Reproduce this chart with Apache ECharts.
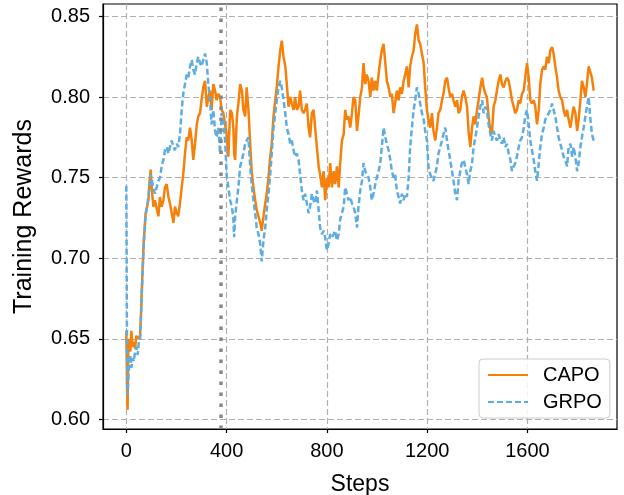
<!DOCTYPE html>
<html>
<head>
<meta charset="utf-8">
<script src="https://cdn.jsdelivr.net/npm/echarts@6/dist/echarts.min.js"></script>
<style>
  html, body { margin: 0; padding: 0; background: #fff; }
  #chart { width: 624px; height: 495px; }
</style>
</head>
<body>
<div id="chart"></div>
<script>
// training steps (shared by both curves)
var steps = [
    0, 3, 5, 8, 12, 16, 20, 25, 30, 35, 40, 45, 50, 55, 60, 64, 70, 77, 83, 88, 93, 97,
    101, 108, 114, 121, 128, 134, 141, 148, 154, 161, 168, 174, 181, 188, 194, 201, 207, 214, 221, 227,
    234, 241, 247, 254, 261, 267, 274, 281, 287, 294, 300, 307, 314, 321, 327, 334, 340, 347, 354, 360,
    367, 374, 380, 387, 394, 400, 407,
    414, 421, 427, 430, 434, 441, 447, 454, 461, 467, 474, 480, 487, 494, 500, 507, 514, 520, 527, 534,
    540, 547, 554, 560, 567, 574, 580, 587, 594, 600, 607, 614, 620, 627, 634, 640, 647, 654, 660, 667,
    673, 680, 687, 693, 700, 707, 713, 720, 727, 733, 740, 747, 753, 760, 767, 773, 780, 787, 793, 800,
    807, 813, 820, 827, 833, 840, 847, 853, 860, 867,
    873, 880, 886, 893, 900, 906, 913, 920, 926, 933, 940, 946, 953, 959, 966, 973, 979, 986, 993, 999,
    1006, 1013, 1019, 1026, 1033, 1039, 1046, 1053, 1059, 1066, 1072, 1079, 1086, 1092, 1099, 1106, 1112, 1119, 1126, 1132,
    1139, 1146, 1152, 1159, 1166, 1172, 1179, 1186, 1192, 1199, 1205, 1212, 1219, 1225, 1232, 1239, 1245, 1252, 1259, 1265,
    1272, 1279, 1285, 1292, 1299, 1305, 1312, 1319, 1325, 1332, 1338, 1345,
    1352, 1359, 1365, 1372, 1379, 1385, 1392, 1399, 1405, 1412, 1419, 1425, 1432, 1438, 1445, 1452, 1458, 1465, 1472, 1478,
    1485, 1492, 1498, 1505, 1512, 1518, 1525, 1532, 1538, 1545, 1551, 1558, 1565, 1571, 1578, 1585, 1591, 1598, 1605, 1611,
    1618, 1625, 1631, 1638, 1645, 1651, 1658, 1665, 1671, 1678, 1685, 1691, 1698, 1704, 1711, 1718, 1724, 1731, 1738, 1744,
    1751, 1758, 1764, 1771, 1778, 1784, 1791, 1798, 1804, 1811, 1817, 1824, 1831, 1837, 1844, 1851, 1857, 1864
];

var capoRewards = [
    0.655, 0.620, 0.606, 0.645, 0.650, 0.642, 0.655, 0.645, 0.648, 0.644, 0.652, 0.650, 0.651, 0.652, 0.672, 0.690, 0.712, 0.728, 0.732, 0.736, 0.748, 0.755,
    0.744, 0.732, 0.736, 0.736, 0.726, 0.738, 0.732, 0.736, 0.744, 0.746, 0.738, 0.734, 0.728, 0.722, 0.732, 0.728, 0.726, 0.734, 0.744, 0.752,
    0.765, 0.775, 0.773, 0.781, 0.773, 0.761, 0.771, 0.783, 0.788, 0.790, 0.798, 0.806, 0.810, 0.794, 0.800, 0.804, 0.792, 0.808, 0.804, 0.798,
    0.802, 0.800, 0.792, 0.790, 0.783, 0.777, 0.763,
    0.792, 0.790, 0.781, 0.765, 0.761, 0.788, 0.796, 0.808, 0.804, 0.792, 0.788, 0.806, 0.792, 0.771, 0.754, 0.744, 0.736, 0.730, 0.726, 0.722,
    0.717, 0.726, 0.734, 0.740, 0.750, 0.763, 0.771, 0.788, 0.798, 0.806, 0.819, 0.829, 0.835, 0.825, 0.819, 0.808, 0.794, 0.800, 0.796, 0.792,
    0.800, 0.792, 0.794, 0.804, 0.792, 0.790, 0.792, 0.796, 0.781, 0.775, 0.790, 0.792, 0.781, 0.769, 0.757, 0.752, 0.744, 0.754, 0.736, 0.750,
    0.744, 0.759, 0.744, 0.754, 0.746, 0.757, 0.744, 0.759, 0.773, 0.777,
    0.792, 0.786, 0.788, 0.781, 0.790, 0.800, 0.798, 0.779, 0.788, 0.800, 0.806, 0.821, 0.808, 0.814, 0.810, 0.800, 0.812, 0.804, 0.810, 0.804,
    0.814, 0.823, 0.829, 0.833, 0.821, 0.810, 0.806, 0.800, 0.802, 0.790, 0.796, 0.804, 0.798, 0.806, 0.802, 0.810, 0.814, 0.819, 0.806, 0.819,
    0.825, 0.829, 0.839, 0.845, 0.835, 0.833, 0.827, 0.821, 0.806, 0.792, 0.786, 0.781, 0.790, 0.779, 0.773, 0.781, 0.790, 0.792, 0.798, 0.802,
    0.810, 0.812, 0.806, 0.800, 0.802, 0.798, 0.794, 0.798, 0.790, 0.792, 0.800, 0.804,
    0.800, 0.794, 0.779, 0.769, 0.781, 0.788, 0.783, 0.792, 0.798, 0.806, 0.812, 0.806, 0.802, 0.800, 0.788, 0.779, 0.777, 0.794, 0.798, 0.804,
    0.810, 0.814, 0.808, 0.806, 0.810, 0.812, 0.810, 0.804, 0.798, 0.794, 0.790, 0.792, 0.798, 0.796, 0.802, 0.804, 0.812, 0.821, 0.812, 0.798,
    0.796, 0.798, 0.794, 0.783, 0.792, 0.808, 0.817, 0.819, 0.817, 0.825, 0.821, 0.829, 0.831, 0.827, 0.819, 0.812, 0.804, 0.800, 0.798, 0.792,
    0.788, 0.792, 0.786, 0.781, 0.788, 0.794, 0.790, 0.779, 0.786, 0.798, 0.810, 0.806, 0.800, 0.808, 0.819, 0.819, 0.812, 0.804
];

var grpoRewards = [
    0.745, 0.640, 0.615, 0.625, 0.635, 0.640, 0.632, 0.638, 0.636, 0.642, 0.645, 0.640, 0.648, 0.650, 0.670, 0.688, 0.710, 0.726, 0.733, 0.738, 0.745, 0.752,
    0.752, 0.744, 0.740, 0.744, 0.748, 0.750, 0.757, 0.761, 0.767, 0.769, 0.765, 0.769, 0.773, 0.769, 0.767, 0.771, 0.769, 0.777, 0.792, 0.802,
    0.808, 0.814, 0.812, 0.819, 0.823, 0.817, 0.814, 0.821, 0.825, 0.821, 0.819, 0.823, 0.827, 0.821, 0.808, 0.798, 0.783, 0.792, 0.779, 0.775,
    0.781, 0.765, 0.790, 0.786, 0.773, 0.752, 0.744,
    0.736, 0.732, 0.724, 0.713, 0.726, 0.736, 0.744, 0.757, 0.761, 0.765, 0.771, 0.773, 0.775, 0.757, 0.746, 0.736, 0.728, 0.719, 0.715, 0.709,
    0.698, 0.711, 0.719, 0.730, 0.740, 0.752, 0.765, 0.781, 0.790, 0.798, 0.806, 0.810, 0.806, 0.798, 0.790, 0.781, 0.777, 0.771, 0.773, 0.767,
    0.763, 0.765, 0.761, 0.752, 0.742, 0.736, 0.740, 0.734, 0.728, 0.732, 0.740, 0.736, 0.734, 0.742, 0.730, 0.719, 0.715, 0.717, 0.713, 0.705,
    0.709, 0.715, 0.713, 0.715, 0.717, 0.711, 0.715, 0.724, 0.728, 0.732,
    0.744, 0.740, 0.736, 0.738, 0.734, 0.732, 0.728, 0.719, 0.732, 0.742, 0.748, 0.759, 0.754, 0.752, 0.750, 0.744, 0.736, 0.740, 0.746, 0.750,
    0.754, 0.759, 0.769, 0.781, 0.775, 0.771, 0.767, 0.761, 0.754, 0.750, 0.752, 0.742, 0.738, 0.734, 0.740, 0.736, 0.740, 0.738, 0.750, 0.769,
    0.781, 0.792, 0.798, 0.806, 0.802, 0.796, 0.790, 0.786, 0.779, 0.773, 0.757, 0.752, 0.750, 0.748, 0.748, 0.757, 0.765, 0.769, 0.773, 0.777,
    0.781, 0.773, 0.767, 0.761, 0.754, 0.748, 0.740, 0.736, 0.748, 0.754, 0.759, 0.761,
    0.761, 0.752, 0.746, 0.754, 0.759, 0.769, 0.775, 0.781, 0.788, 0.794, 0.798, 0.790, 0.794, 0.792, 0.783, 0.777, 0.773, 0.779, 0.775, 0.773,
    0.777, 0.773, 0.771, 0.775, 0.769, 0.771, 0.765, 0.761, 0.754, 0.757, 0.759, 0.763, 0.769, 0.773, 0.775, 0.781, 0.788, 0.792, 0.783, 0.773,
    0.767, 0.761, 0.754, 0.748, 0.759, 0.769, 0.777, 0.781, 0.786, 0.788, 0.790, 0.792, 0.796, 0.792, 0.788, 0.781, 0.775, 0.771, 0.767, 0.763,
    0.761, 0.757, 0.769, 0.771, 0.763, 0.769, 0.763, 0.754, 0.759, 0.769, 0.775, 0.781, 0.788, 0.794, 0.800, 0.786, 0.777, 0.773
];

var xTicks = [0, 400, 800, 1200, 1600];
var yTicks = [0.60, 0.65, 0.70, 0.75, 0.80, 0.85];
var switchStep = 375;

var FONT = '"Liberation Sans", Arial, Helvetica, sans-serif';
var gridDash = { color: '#b0b0b0', width: 1.2, type: [6, 3] };

var pair = function (vals) {
    return steps.map(function (s, i) {
        return [s, vals[i]];
    });
};

var chart = echarts.init(document.getElementById('chart'), null, { renderer: 'canvas' });
chart.setOption({
    animation: false,
    backgroundColor: '#fff',
    grid: {
        left: 103, top: 4, width: 514, height: 425,
        outerBoundsMode: 'none', containLabel: false,
        show: true, borderColor: '#000', borderWidth: 1.2, backgroundColor: 'transparent'
    },
    legend: {
        data: ['CAPO', 'GRPO'],
        orient: 'vertical',
        left: 479, top: 359,
        itemWidth: 40, itemHeight: 14, itemGap: 7,
        padding: [6, 8, 6, 8],
        backgroundColor: 'rgba(255,255,255,0.85)',
        borderColor: '#cccccc', borderWidth: 1, borderRadius: 4,
        itemStyle: { opacity: 0 },
        textStyle: { fontFamily: FONT, fontSize: 20, color: '#000', padding: [0, 0, 0, 10] }
    },
    xAxis: {
        type: 'value',
        min: -93, max: 1957,
        name: 'Steps', nameLocation: 'middle', nameGap: 44,
        nameTextStyle: { fontFamily: FONT, fontSize: 23, color: '#000' },
        axisLine: { show: true, onZero: false, lineStyle: { color: '#000', width: 1.2 } },
        axisTick: { show: true, length: 4, customValues: xTicks, lineStyle: { color: '#000', width: 1.2 } },
        axisLabel: {
            customValues: xTicks, fontFamily: FONT, fontSize: 20, color: '#000', margin: 12,
            formatter: function (v) { return String(v); }
        },
        splitLine: { show: true, lineStyle: gridDash }
    },
    yAxis: {
        type: 'value',
        min: 0.5941, max: 0.8577,
        name: 'Training Rewards', nameLocation: 'middle', nameGap: 66,
        nameTextStyle: { fontFamily: FONT, fontSize: 25, color: '#000' },
        axisLine: { show: true, onZero: false, lineStyle: { color: '#000', width: 1.2 } },
        axisTick: { show: true, length: 4, customValues: yTicks, lineStyle: { color: '#000', width: 1.2 } },
        axisLabel: {
            customValues: yTicks, fontFamily: FONT, fontSize: 20, color: '#000', margin: 13,
            formatter: function (v) { return v.toFixed(2); }
        },
        splitLine: { show: true, lineStyle: gridDash }
    },
    series: [
        {
            name: 'CAPO',
            type: 'line',
            data: pair(capoRewards),
            symbol: 'none',
            showSymbol: false,
            color: '#F5800A',
            lineStyle: { color: '#F5800A', width: 2.5 },
            markLine: {
                silent: true,
                symbol: 'none',
                label: { show: false },
                lineStyle: { color: '#888888', width: 3.5, type: [3.5, 7.5] },
                data: [{ xAxis: switchStep }]
            }
        },
        {
            name: 'GRPO',
            type: 'line',
            data: pair(grpoRewards),
            symbol: 'none',
            showSymbol: false,
            color: '#5DADE2',
            lineStyle: { color: '#5DADE2', width: 2.5, type: [6, 3] }
        }
    ]
});
</script>
</body>
</html>
